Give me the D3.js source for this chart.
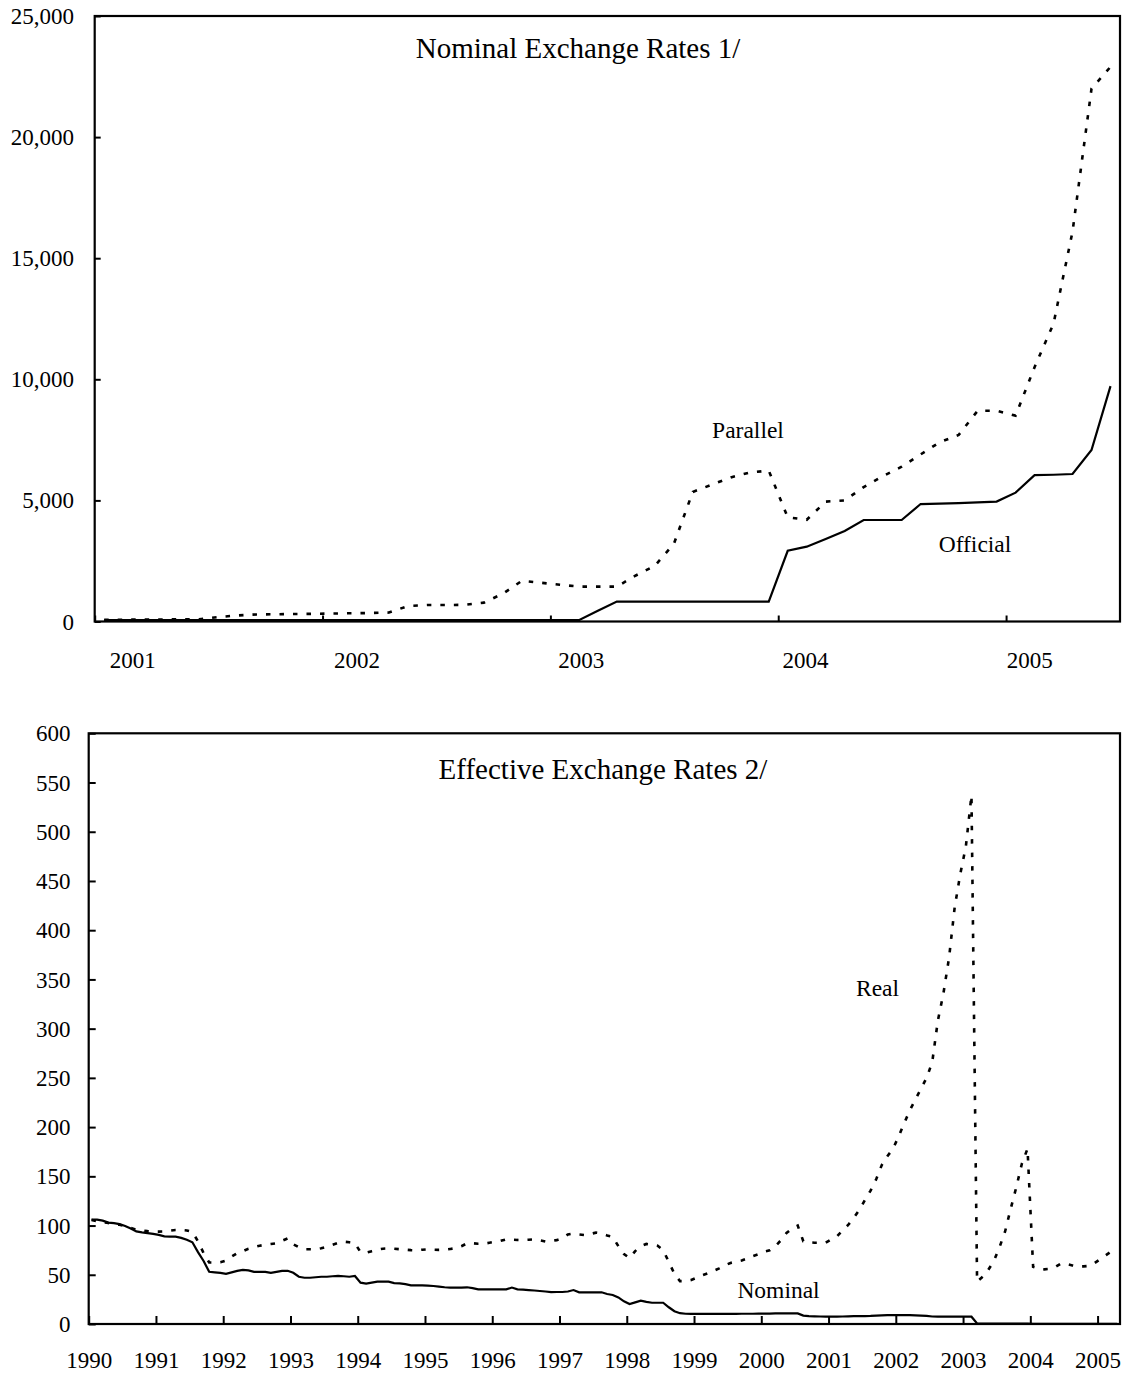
<!DOCTYPE html>
<html>
<head>
<meta charset="utf-8">
<script src="https://cdn.jsdelivr.net/npm/d3@7"></script>
<style>
  html, body { margin: 0; padding: 0; background: #fff; overflow: hidden; }
  svg text { font-family: "Liberation Serif", "Times New Roman", serif; fill: #000; }
</style>
</head>
<body>
<svg id="chart" width="1122" height="1373"></svg>
<script>
// ---------------- DATA ----------------
// Top panel: monthly, Jan 2001 - Jun 2005 (local currency per US$)
const topYearLabels = ["2001", "2002", "2003", "2004", "2005"];
const topYTicks = [0, 5000, 10000, 15000, 20000, 25000];
const officialRate = [
  55, 55, 55, 55, 55, 55, 55, 55, 55, 55, 55, 55,
  55, 55, 55, 55, 55, 55, 55, 55, 55, 55, 55, 55,
  55, 55, 440, 824, 824, 824, 824, 824, 824, 824, 824, 824,
  2920, 3090, 3410, 3740, 4190, 4190, 4190, 4850, 4870, 4890, 4920, 4950,
  5320, 6040, 6060, 6090, 7080, 9720
];
const parallelRate = [
  70, 75, 80, 85, 90, 95, 180, 250, 290, 300, 310, 315,
  330, 340, 350, 370, 640, 680, 680, 690, 780, 1150, 1680, 1600,
  1520, 1440, 1440, 1440, 1900, 2300, 3200, 5350, 5650, 5950, 6150, 6230,
  4300, 4200, 4950, 5000, 5550, 6000, 6390, 6900, 7400, 7700, 8700, 8700,
  8500, 10500, 12300, 16100, 22000, 22900
];

// Bottom panel: monthly, Jan 1990 - Apr 2005 (index)
const bottomYearLabels = ["1990","1991","1992","1993","1994","1995","1996","1997",
                          "1998","1999","2000","2001","2002","2003","2004","2005"];
const bottomYTicks = [0, 50, 100, 150, 200, 250, 300, 350, 400, 450, 500, 550, 600];
const nominalEER = [
  106, 106, 105, 103, 102.5, 101.5, 99.5, 97, 94, 93, 92.3, 91.6,
  90.5, 89, 88.7, 88.7, 87.5, 85.5, 83, 73, 64, 53, 52.5, 52,
  51, 52.5, 54, 55, 54.5, 53, 53, 53, 52, 53, 54, 54,
  52, 48, 47, 47, 47.5, 48, 48, 48.5, 48.8, 48.5, 48, 48.8,
  42, 41, 42, 43, 43, 43, 41.5, 41.3, 40.5, 39.3, 39.3, 39.3,
  39, 38.6, 38, 37.3, 37, 36.9, 37, 37.3, 36.5, 35.2, 35.2, 35.2,
  35.2, 35.2, 35.2, 37, 35.2, 35, 34.5, 34, 33.5, 33, 32.3, 32.5,
  32.5, 33, 34.5, 32.2, 32.2, 32.2, 32.2, 32.2, 30.5, 29.5, 27, 23,
  20.3, 22, 23.7, 22.5, 21.6, 21.6, 21.6, 17, 13, 11, 10.4, 10.2,
  10.2, 10.2, 10.2, 10.2, 10.3, 10.3, 10.3, 10.3, 10.4, 10.4, 10.4, 10.5,
  10.5, 10.6, 10.8, 10.8, 10.8, 10.8, 10.8, 8.5, 8, 7.8, 7.6, 7.4,
  7.5, 7.5, 7.6, 7.8, 8, 8, 8.1, 8.2, 8.5, 8.8, 9, 9.1,
  9.1, 9.1, 9, 8.8, 8.5, 8.2, 7.6, 7.4, 7.4, 7.4, 7.4, 7.4,
  7.4, 7.4, 0.5, 0.4, 0.4, 0.3, 0.3, 0.3, 0.3, 0.3, 0.3, 0.3,
  0.2, 0.2, 0.2, 0.2, 0.2, 0.2, 0.2, 0.2, 0.2, 0.2, 0.2, 0.2,
  0.2, 0.2, 0.2, 0.2
];
const realEER = [
  105.6, 104.5, 103.5, 102.5, 101.5, 100.8, 99.5, 97.5, 95.8, 95, 94.3, 93.8,
  93.8, 94, 94.8, 95.5, 95.5, 95, 93.5, 84, 72, 62.5, 62.5, 62.8,
  64.5, 68.5, 72, 74, 76.5, 78, 79.5, 80.5, 81.3, 82, 84.5, 87,
  81, 78, 76, 76, 76, 77, 78.5, 80.5, 82.5, 83.6, 83, 82,
  73, 72.5, 74, 75.5, 76.5, 76.8, 76.5, 76, 75.5, 75, 74.8, 75.5,
  75.9, 75.5, 75.3, 75.5, 76.2, 77, 79, 82, 82, 81.5, 81.5, 82.5,
  83.6, 84.5, 86, 85.7, 85.4, 85.3, 85.6, 86, 85, 83.8, 84.3, 85.2,
  87, 91, 92, 91, 90.4, 91.5, 92.8, 92, 90, 88.5, 79, 71,
  67, 74, 79, 81.3, 80.5, 79.5, 75, 63, 51, 43.5, 43.5, 44.7,
  47, 49.5, 51.5, 54, 56.5, 59.5, 62, 63.3, 64.5, 66.5, 69, 71,
  73.5, 74.8, 79, 85, 92.5, 97, 100, 84, 83, 82.6, 82.6, 82.6,
  86, 89, 95, 100.6, 108, 116, 126, 135.5, 147, 161.5, 170.5, 178,
  190.5, 204, 217, 228, 239, 250, 266, 308, 336, 372, 423, 457,
  485, 537, 43, 48, 55, 64, 78, 94, 117, 139, 163, 178,
  58, 56, 55.5, 56, 58, 61.5, 61, 59.5, 58.5, 58.5, 59, 62,
  66, 70, 74, 77
];

// ---------------- DRAWING ----------------
const svg = d3.select("#chart");
const FONT = 23;

function drawPanel(opts) {
  const g = svg.append("g");
  const n = opts.series[0].values.length;
  const x = d3.scaleLinear().domain([0, n]).range([opts.left, opts.right]);
  const y = d3.scaleLinear().domain([opts.yTicks[0], opts.yTicks[opts.yTicks.length - 1]])
              .range([opts.bottom, opts.top]);

  // series
  opts.series.forEach(s => {
    const line = d3.line().x((d, i) => x(i + 0.5)).y(d => y(d));
    g.append("path")
      .datum(s.values)
      .attr("fill", "none")
      .attr("stroke", "#000")
      .attr("stroke-width", s.dashed ? 2.6 : 2.2)
      .attr("stroke-dasharray", s.dashed ? "4.5,9" : null)
      .attr("stroke-linejoin", "miter")
      .attr("d", line);
  });

  // y axis (ticks pointing inward)
  const yAxis = d3.axisLeft(y)
    .tickValues(opts.yTicks)
    .tickSizeInner(-opts.yTickLen)
    .tickSizeOuter(0)
    .tickPadding(opts.left - opts.yLabelRight)
    .tickFormat(opts.yFormat);
  const ya = g.append("g").attr("transform", `translate(${opts.left},0)`).call(yAxis);
  ya.select(".domain").remove();
  ya.selectAll("line").attr("stroke", "#000").attr("stroke-width", 2);
  ya.selectAll("text").attr("font-size", FONT).attr("dy", "0.33em")
    .style("font-family", '"Liberation Serif", "Times New Roman", serif');

  // x axis ticks (inward)
  const xAxis = d3.axisBottom(x)
    .tickValues(opts.xTickValues)
    .tickSizeInner(-opts.xTickLen)
    .tickSizeOuter(0)
    .tickFormat(opts.xTickFormat || (() => ""));
  const xa = g.append("g").attr("transform", `translate(0,${opts.bottom})`).call(xAxis);
  xa.select(".domain").remove();
  xa.selectAll("line").attr("stroke", "#000").attr("stroke-width", 2);
  xa.selectAll("text").attr("font-size", FONT).attr("y", opts.xLabelBaseline - opts.bottom).attr("dy", 0)
    .style("font-family", '"Liberation Serif", "Times New Roman", serif');

  // frame
  g.append("rect")
    .attr("x", opts.left).attr("y", opts.top)
    .attr("width", opts.right - opts.left).attr("height", opts.bottom - opts.top)
    .attr("fill", "none").attr("stroke", "#000").attr("stroke-width", 2.2);

  // title
  g.append("text").attr("x", opts.titleX).attr("y", opts.titleY)
    .attr("text-anchor", "middle").attr("font-size", 29).text(opts.title);

  // series labels
  opts.series.forEach(s => {
    g.append("text").attr("x", s.labelX).attr("y", s.labelY)
      .attr("text-anchor", "middle").attr("font-size", 23.5).text(s.name);
  });

  return { g, x, y };
}

// Top panel
const topPanel = drawPanel({
  left: 94.7, right: 1120, top: 16, bottom: 621.5,
  yTicks: topYTicks, yTickLen: 6, yLabelRight: 74,
  yFormat: d3.format(","),
  xTickValues: [0, 12, 24, 36, 48], xTickLen: 6, xLabelBaseline: 668,
  title: "Nominal Exchange Rates 1/", titleX: 578, titleY: 58,
  series: [
    { name: "Official", values: officialRate, dashed: false, labelX: 975, labelY: 552 },
    { name: "Parallel", values: parallelRate, dashed: true, labelX: 748, labelY: 438 }
  ]
});
// Top year labels (placed slightly after each year's tick, as in the original)
const topLabelScale = d3.scaleLinear().domain([0, topYearLabels.length - 1])
  .range([topPanel.x(2.0), topPanel.x(49.25)]);
topPanel.g.append("g").selectAll("text").data(topYearLabels).join("text")
  .attr("x", (d, i) => topLabelScale(i)).attr("y", 668)
  .attr("text-anchor", "middle").attr("font-size", FONT).text(d => d);

// Bottom panel
drawPanel({
  left: 88.7, right: 1120, top: 733.3, bottom: 1324,
  yTicks: bottomYTicks, yTickLen: 7, yLabelRight: 70.5,
  yFormat: d3.format("d"),
  xTickValues: d3.range(0, 184, 12), xTickLen: 8, xLabelBaseline: 1368,
  xTickFormat: d => bottomYearLabels[d / 12],
  title: "Effective Exchange Rates 2/", titleX: 603, titleY: 779,
  series: [
    { name: "Nominal", values: nominalEER, dashed: false, labelX: 778.5, labelY: 1298 },
    { name: "Real", values: realEER, dashed: true, labelX: 877.5, labelY: 996 }
  ]
});
</script>
</body>
</html>
